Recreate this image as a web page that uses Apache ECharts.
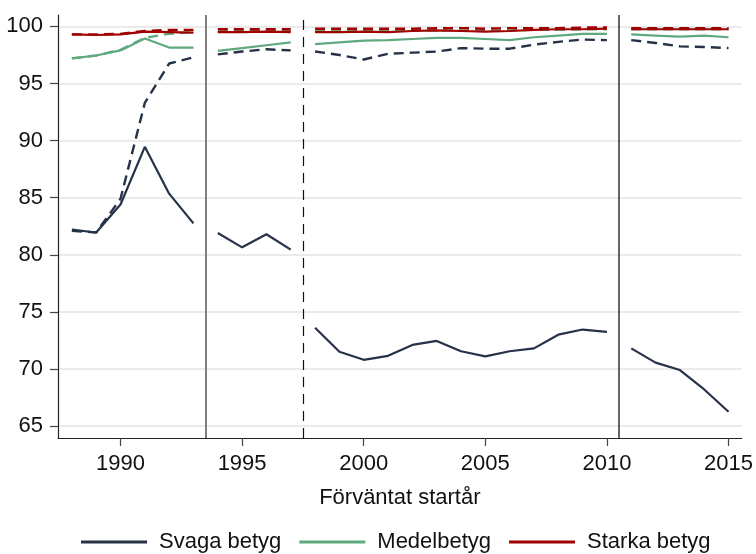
<!DOCTYPE html>
<html>
<head>
<meta charset="utf-8">
<script src="https://cdn.jsdelivr.net/npm/echarts@6/dist/echarts.min.js"></script>
<style>
  html, body { margin: 0; padding: 0; background: #fff; }
  #chart { width: 756px; height: 554px; }
</style>
</head>
<body>
<div id="chart"></div>
<script>
// Expected start year, one value per year 1988–2015
const years = [1988, 1989, 1990, 1991, 1992, 1993, 1994, 1995, 1996, 1997,
  1998, 1999, 2000, 2001, 2002, 2003, 2004, 2005, 2006, 2007, 2008, 2009, 2010,
  2011, 2012, 2013, 2014, 2015];

// Period boundaries where lines are broken
const breaks = [1993.5, 1997.5, 2010.5];

// Solid lines
const svagaSolid = [82.2, 81.95, 84.4, 89.45, 85.35, 82.75, 81.9, 80.65, 81.8, 80.45,
  73.6, 71.5, 70.8, 71.15, 72.1, 72.45, 71.55, 71.1, 71.55, 71.8, 73.0, 73.45, 73.25,
  71.8, 70.55, 69.9, 68.2, 66.25];
const medelSolid = [97.2, 97.45, 97.9, 98.95, 98.15, 98.15, 97.85, 98.1, 98.35, 98.6,
  98.45, 98.6, 98.75, 98.8, 98.9, 99.0, 99.0, 98.9, 98.8, 99.05, 99.2, 99.35, 99.35,
  99.3, 99.2, 99.1, 99.2, 99.05];
const starkaSolid = [99.3, 99.25, 99.3, 99.55, 99.5, 99.45, 99.5, 99.5, 99.55, 99.5,
  99.5, 99.5, 99.55, 99.5, 99.6, 99.65, 99.6, 99.55, 99.6, 99.7, 99.75, 99.75, 99.8,
  99.75, 99.75, 99.75, 99.75, 99.75];

// Dashed lines
const svagaDashed = [82.1, 81.95, 84.9, 93.3, 96.75, 97.3, 97.55, 97.8, 98.0, 97.9,
  97.8, 97.5, 97.1, 97.6, 97.7, 97.8, 98.1, 98.05, 98.05, 98.4, 98.65, 98.85, 98.8,
  98.8, 98.55, 98.25, 98.2, 98.1];
const medelDashed = [97.2, 97.45, 97.95, 99.0, 99.35, 99.5, 99.55, 99.6, 99.6, 99.6,
  99.6, 99.6, 99.6, 99.6, 99.65, 99.65, 99.65, 99.6, 99.65, 99.7, 99.7, 99.75, 99.75,
  99.75, 99.75, 99.75, 99.75, 99.75];
const starkaDashed = [99.3, 99.3, 99.35, 99.6, 99.7, 99.7, 99.75, 99.75, 99.75, 99.75,
  99.8, 99.8, 99.8, 99.8, 99.8, 99.85, 99.85, 99.8, 99.85, 99.85, 99.85, 99.9, 99.9,
  99.85, 99.85, 99.85, 99.85, 99.85];

const xTicks = [1990, 1995, 2000, 2005, 2010, 2015];
const yTicks = [65, 70, 75, 80, 85, 90, 95, 100];

const legendNames = ['Svaga betyg', 'Medelbetyg', 'Starka betyg'];
const colors = { svaga: '#263247', medel: '#5fa97f', starka: '#a00000' };

// Build [year, value] pairs with a gap at each period boundary
function segmented(values) {
  const out = [];
  years.forEach((y, i) => {
    if (i > 0) {
      const b = breaks.find(v => v > years[i - 1] && v < y);
      if (b !== undefined) out.push([b, '-']);
    }
    out.push([y, values[i]]);
  });
  return out;
}

const FONT = "'Liberation Sans', Arial, Helvetica, sans-serif";

function lineSeries(name, values, color, dashed, extra) {
  return Object.assign({
    name: name,
    type: 'line',
    data: segmented(values),
    symbol: 'none',
    connectNulls: false,
    lineStyle: { color: color, width: dashed ? 2.4 : 2.2, type: dashed ? [10, 6] : 'solid' },
    itemStyle: { color: color },
    emphasis: { disabled: true }
  }, extra || {});
}

const chart = echarts.init(document.getElementById('chart'), null, { renderer: 'canvas' });

chart.setOption({
  animation: false,
  backgroundColor: '#ffffff',
  grid: { left: 58, right: 13, top: 15, bottom: 116, containLabel: false },
  xAxis: {
    type: 'value',
    min: 1987.43,
    max: 2015.54,
    name: 'Förväntat startår',
    nameLocation: 'middle',
    nameGap: 49,
    nameTextStyle: { fontFamily: FONT, fontSize: 22, color: '#111' },
    axisLine: { show: true, onZero: false, lineStyle: { color: '#222', width: 1.2 } },
    axisTick: { show: true, length: 8, customValues: xTicks, lineStyle: { color: '#444', width: 1.2 } },
    axisLabel: {
      customValues: xTicks, margin: 15, fontFamily: FONT, fontSize: 22, color: '#111',
      formatter: v => String(v)
    },
    splitLine: { show: false }
  },
  yAxis: {
    type: 'value',
    min: 63.95,
    max: 101.0,
    axisLine: { show: true, onZero: false, lineStyle: { color: '#222', width: 1.2 } },
    axisTick: { show: true, length: 8, customValues: yTicks, lineStyle: { color: '#444', width: 1.2 } },
    axisLabel: {
      customValues: yTicks, margin: 15, fontFamily: FONT, fontSize: 22, color: '#111',
      formatter: v => String(v)
    },
    splitLine: { show: true, lineStyle: { color: '#e4e4e4', width: 1.6 } }
  },
  legend: {
    data: legendNames,
    left: 76,
    top: 526,
    orient: 'horizontal',
    icon: 'rect',
    itemWidth: 66,
    itemHeight: 3,
    itemGap: 18,
    textStyle: { fontFamily: FONT, fontSize: 22, color: '#111', padding: [0, 0, 0, 7] },
    selectedMode: false
  },
  series: [
    lineSeries('Svaga betyg', svagaSolid, colors.svaga, false, {
      markLine: {
        silent: true,
        symbol: ['none', 'none'],
        label: { show: false },
        data: [
          { xAxis: breaks[0], lineStyle: { color: '#808080', width: 2, type: 'solid' } },
          { xAxis: breaks[1], lineStyle: { color: '#111', width: 1.2, type: [10, 7] } },
          { xAxis: breaks[2], lineStyle: { color: '#333', width: 1.5, type: 'solid' } }
        ]
      }
    }),
    lineSeries('Svaga betyg, streckad', svagaDashed, colors.svaga, true),
    lineSeries('Medelbetyg', medelSolid, colors.medel, false),
    lineSeries('Medelbetyg, streckad', medelDashed, colors.medel, true),
    lineSeries('Starka betyg', starkaSolid, colors.starka, false),
    lineSeries('Starka betyg, streckad', starkaDashed, colors.starka, true)
  ]
});
</script>
</body>
</html>
